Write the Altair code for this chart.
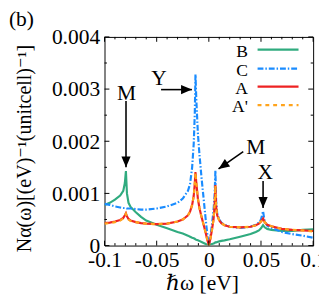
import altair as alt
import pandas as pd

# energy grid (eV)
omega = [-0.1, -0.095, -0.09, -0.085, -0.082, -0.0805, -0.0795, -0.0785, -0.077, -0.075,
         -0.07, -0.065, -0.06, -0.05, -0.04, -0.03, -0.025, -0.02, -0.018, -0.016,
         -0.0145, -0.0135, -0.0128, -0.012, -0.0105, -0.009, -0.007, -0.005, -0.003, -0.0015,
         0.0, 0.0015, 0.003, 0.0045, 0.0055, 0.0063, 0.007, 0.008, 0.01, 0.012,
         0.015, 0.02, 0.03, 0.04, 0.045, 0.048, 0.05, 0.052, 0.0535, 0.056,
         0.06, 0.07, 0.08, 0.09, 0.1]

N_B = [0.00078, 0.00082, 0.00088, 0.00096, 0.00105, 0.00120, 0.00143, 0.00100, 0.00082, 0.00074,
       0.00064, 0.00055, 0.00048, 0.00040, 0.00033, 0.00026, 0.00023, 0.00019, 0.00017, 0.00015,
       0.00014, 0.00013, 0.00012, 0.00011, 0.00010, 0.00009, 0.00007, 0.00005, 0.00003, 0.00001,
       0.0, 0.00002, 0.00003, 0.00004, 0.00005, 0.00006, 0.00006, 0.00007, 0.00008, 0.00009,
       0.00010, 0.00012, 0.00017, 0.00022, 0.00026, 0.00029, 0.00033, 0.00039, 0.00035, 0.00032,
       0.00030, 0.00028, 0.00028, 0.00030, 0.00031]

N_C = [0.00080, 0.00078, 0.00075, 0.00073, 0.00072, 0.00072, 0.00072, 0.00071, 0.00071, 0.00071,
       0.00070, 0.00069, 0.00069, 0.00071, 0.00075, 0.00082, 0.00090, 0.00105, 0.00118, 0.00150,
       0.00195, 0.00250, 0.00328, 0.00280, 0.00215, 0.00175, 0.00130, 0.00090, 0.00050, 0.00022,
       0.0, 0.00018, 0.00040, 0.00068, 0.00095, 0.00144, 0.00085, 0.00062, 0.00050, 0.00044,
       0.00040, 0.00036, 0.00034, 0.00036, 0.00040, 0.00044, 0.00050, 0.00066, 0.00046, 0.00038,
       0.00034, 0.00026, 0.00022, 0.00019, 0.00015]

N_A = [0.00043, 0.00044, 0.00046, 0.00049, 0.00053, 0.00058, 0.00062, 0.00056, 0.00051, 0.00048,
       0.00045, 0.00043, 0.00042, 0.00041, 0.00042, 0.00046, 0.00050, 0.00058, 0.00065, 0.00078,
       0.00095, 0.00118, 0.00141, 0.00120, 0.00090, 0.00072, 0.00055, 0.00040, 0.00024, 0.00011,
       0.0, 0.00013, 0.00030, 0.00050, 0.00075, 0.00116, 0.00075, 0.00058, 0.00048, 0.00043,
       0.00039, 0.00036, 0.00035, 0.00036, 0.00039, 0.00042, 0.00046, 0.00052, 0.00045, 0.00040,
       0.00037, 0.00032, 0.00030, 0.00029, 0.00028]

N_Ap = [0.00042, 0.00043, 0.00045, 0.00048, 0.00052, 0.00057, 0.00061, 0.00055, 0.00050, 0.00047,
        0.00045, 0.00043, 0.00042, 0.00041, 0.00042, 0.00046, 0.00050, 0.00058, 0.00065, 0.00078,
        0.00095, 0.00118, 0.00140, 0.00120, 0.00090, 0.00072, 0.00055, 0.00040, 0.00024, 0.00011,
        0.0, 0.00013, 0.00030, 0.00050, 0.00075, 0.00115, 0.00075, 0.00058, 0.00048, 0.00043,
        0.00039, 0.00036, 0.00035, 0.00036, 0.00039, 0.00042, 0.00046, 0.00051, 0.00045, 0.00040,
        0.00037, 0.00032, 0.00030, 0.00029, 0.00027]

x_major = [-0.1, -0.05, 0.0, 0.05, 0.1]
x_minor = [-0.09, -0.08, -0.07, -0.06, -0.04, -0.03, -0.02, -0.01,
           0.01, 0.02, 0.03, 0.04, 0.06, 0.07, 0.08, 0.09]
y_major = [0.0, 0.001, 0.002, 0.003, 0.004]
y_minor = [0.0005, 0.0015, 0.0025, 0.0035]

# annotations (data coordinates)
ann_label = ["Y", "M", "M", "X"]
ann_x = [-0.0477, -0.079, 0.0449, 0.054]
ann_y = [0.00320, 0.00293, 0.00189, 0.00140]
arr_x0 = [-0.0458, -0.0794, 0.033, 0.052]
arr_y0 = [0.00299, 0.00277, 0.00180, 0.00124]
arr_x1 = [-0.0162, -0.0794, 0.0093, 0.052]
arr_y1 = [0.00299, 0.00150, 0.00147, 0.00072]
arr_ang = [90, 180, 235, 180]

legend_labels = ["B", "C", "A", "A'"]

W = 214
H = 214
FONT = "Liberation Serif, Tinos, Times New Roman, DejaVu Serif, serif"

xscale = alt.Scale(domain=[-0.1, 0.1], nice=False, zero=False)
yscale = alt.Scale(domain=[0, 0.004], nice=False)

common_axis = dict(domain=False, ticks=False, grid=False,
                   labelFont=FONT, labelFontSize=22, labelColor="black",
                   titleFont=FONT, titleFontWeight="normal", titleColor="black",
                   labelOverlap=False)

xaxis = alt.Axis(values=x_major, title="ℏω [eV]",
                 labelExpr="replace(format(datum.value, '~g'), '\u2212', '-')",
                 labelPadding=4, labelFlush=False,
                 titleX=100, titleY=45, titleBaseline="alphabetic", titleAlign="center",
                 titleFontSize=22, **common_axis)
yaxis = alt.Axis(values=y_major, title="Nα(ω)[(eV)⁻¹(unitcell)⁻¹]",
                 labelExpr="datum.value == 0 ? '0' : format(datum.value, '.3f')",
                 labelPadding=5,
                 titleX=-82, titleY=114, titleBaseline="middle", titleAlign="center",
                 titleAngle=-90, titleFontSize=20.5, **common_axis)

X = lambda f: alt.X(f, type="quantitative", scale=xscale, axis=xaxis)
Y = lambda f: alt.Y(f, type="quantitative", scale=yscale, axis=yaxis)

styles = {
    "B": dict(color="#30ab7f", strokeWidth=2.2),
    "C": dict(color="#1a8cff", strokeWidth=2.2, strokeDash=[6, 2, 1.5, 2]),
    "A": dict(color="#ee2222", strokeWidth=2.2),
    "A'": dict(color="#ffa41c", strokeWidth=2.2, strokeDash=[4, 4]),
}
series_vals = {"B": N_B, "C": N_C, "A": N_A, "A'": N_Ap}

layers = []
for name in ["B", "C", "A", "A'"]:
    df = pd.DataFrame({"omega": omega, "N": series_vals[name]})
    layers.append(alt.Chart(df).mark_line(clip=True, **styles[name]).encode(
        x=X("omega"), y=Y("N")))

# inward ticks on all four sides
def xticks(vals, L):
    df = pd.DataFrame({"v": vals})
    bot = alt.Chart(df).mark_rule(color="black", strokeWidth=1).encode(
        x=X("v"), y=alt.value(H), y2=alt.value(H - L))
    top = alt.Chart(df).mark_rule(color="black", strokeWidth=1).encode(
        x=X("v"), y=alt.value(0), y2=alt.value(L))
    return [bot, top]

def yticks(vals, L):
    df = pd.DataFrame({"v": vals})
    lef = alt.Chart(df).mark_rule(color="black", strokeWidth=1).encode(
        y=Y("v"), x=alt.value(0), x2=alt.value(L))
    rig = alt.Chart(df).mark_rule(color="black", strokeWidth=1).encode(
        y=Y("v"), x=alt.value(W), x2=alt.value(W - L))
    return [lef, rig]

layers += xticks(x_major, 5) + xticks(x_minor, 2.5) + yticks(y_major, 5) + yticks(y_minor, 2.5)

# arrows + labels
arr_df = pd.DataFrame({"x0": arr_x0, "y0": arr_y0, "x1": arr_x1, "y1": arr_y1, "ang": arr_ang})
layers.append(alt.Chart(arr_df).mark_rule(color="black", strokeWidth=1.6).encode(
    x=X("x0"), y=Y("y0"), x2="x1", y2="y1"))
layers.append(alt.Chart(arr_df).mark_point(
    shape="M0,0 L-0.42,1 L0.42,1 Z", filled=True, size=500, color="black",
    opacity=1, strokeWidth=0).encode(
    x=X("x1"), y=Y("y1"), angle=alt.Angle("ang:Q", scale=None)))
ann_df = pd.DataFrame({"t": ann_label, "x": ann_x, "y": ann_y})
layers.append(alt.Chart(ann_df).mark_text(font=FONT, fontSize=22, color="black",
                                          baseline="middle", align="center").encode(
    x=X("x"), y=Y("y"), text="t:N"))

# legend (inside, top-right)
leg_y = [13, 32.5, 51, 70]
for name, yy in zip(legend_labels, leg_y):
    one = pd.DataFrame({"k": [name]})
    layers.append(alt.Chart(one).mark_rule(**styles[name]).encode(
        x=alt.value(157), x2=alt.value(199), y=alt.value(yy)))
    layers.append(alt.Chart(one).mark_text(font=FONT, fontSize=18, color="black",
                                           align="right", baseline="middle").encode(
        x=alt.value(147), y=alt.value(yy + 2.5), text="k:N"))

# panel label
layers.append(alt.Chart(pd.DataFrame({"t": ["(b)"]})).mark_text(
    font=FONT, fontSize=22, color="black", align="left", baseline="middle").encode(
    x=alt.value(-98), y=alt.value(-18), text="t:N"))

chart = alt.layer(*layers).properties(
    width=W, height=H, autosize="none",
    padding={"left": 99, "top": 26, "right": 6, "bottom": 46},
).configure_view(stroke="black", strokeWidth=1).configure_axis(
    domain=False, ticks=False, grid=False,
    labelFont=FONT, labelFontSize=22, labelColor="black",
    titleFont=FONT, titleFontWeight="normal", titleColor="black",
)

chart.save("out.html", embed_options={"renderer": "svg", "actions": False})
